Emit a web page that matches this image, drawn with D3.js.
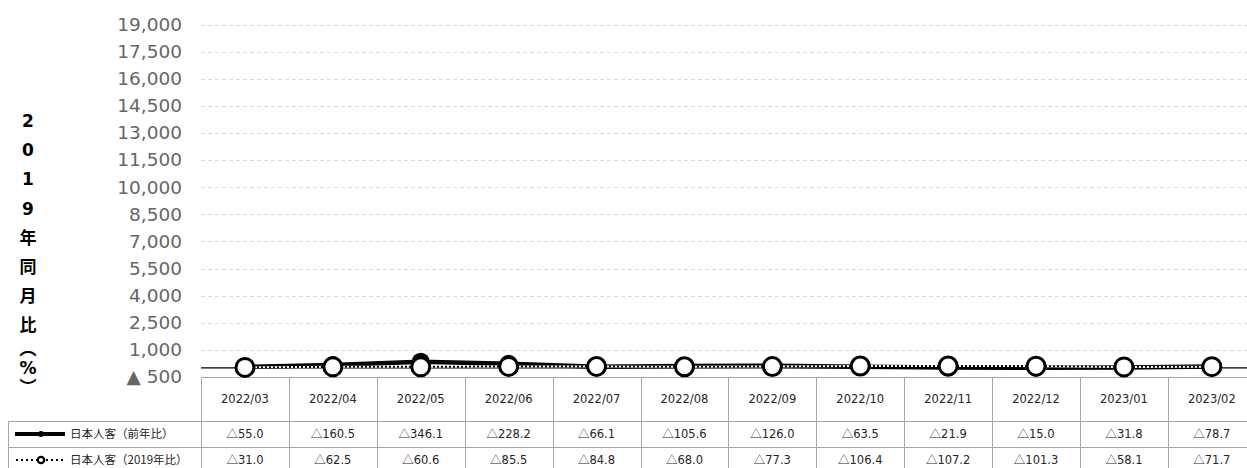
<!DOCTYPE html>
<html>
<head>
<meta charset="utf-8">
<script src="https://cdn.jsdelivr.net/npm/d3@7"></script>
<style>
  body { margin: 0; background: #fff; }
  svg { display: block; font-family: "DejaVu Sans", "Noto Sans CJK JP", sans-serif; }
</style>
</head>
<body>
<div class="canvas"></div>
<script>
// data
const months = ['2022/03', '2022/04', '2022/05', '2022/06', '2022/07', '2022/08',
  '2022/09', '2022/10', '2022/11', '2022/12', '2023/01', '2023/02'];
const yoyValues = [55.0, 160.5, 346.1, 228.2, 66.1, 105.6, 126.0, 63.5, 21.9, 15.0, 31.8, 78.7];
const vs2019Values = [31.0, 62.5, 60.6, 85.5, 84.8, 68.0, 77.3, 106.4, 107.2, 101.3, 58.1, 71.7];
const seriesNames = ['日本人客（前年比）', '日本人客（2019年比）'];
const yTicks = [-500, 1000, 2500, 4000, 5500, 7000, 8500, 10000, 11500, 13000, 14500, 16000, 17500, 19000];
const axisTitle = ['2', '0', '1', '9', '年', '同', '月', '比', '︵', '%', '︶'];

const width = 1247, height = 468;

const svg = d3.select('.canvas')
  .append('svg')
  .attr('width', width)
  .attr('height', height);

// plot area
const plotLeft = 201, plotTop = 24.5, plotBottom = 377;
const colW = 87.9;
const rowH = [44, 26, 26];

const x = d3.scaleBand()
  .domain(months)
  .range([plotLeft, plotLeft + colW * months.length]);

const y = d3.scaleLinear()
  .domain([-500, 19000])
  .range([plotBottom, plotTop]);

// gridlines
svg.append('g')
  .selectAll('line')
  .data(yTicks.filter(d => d > -500))
  .enter()
  .append('line')
    .attr('x1', plotLeft)
    .attr('x2', width)
    .attr('y1', d => Math.round(y(d)) + 0.5)
    .attr('y2', d => Math.round(y(d)) + 0.5)
    .attr('stroke', '#d9d9d9')
    .attr('stroke-dasharray', '4,3');

// y axis
const fmt = d3.format(',');
const yAxis = d3.axisLeft(y)
  .tickValues(yTicks)
  .tickSize(0)
  .tickPadding(0)
  .tickFormat(d => d < 0 ? '▲ ' + fmt(-d) : fmt(d));

const yAxisGroup = svg.append('g')
  .attr('transform', 'translate(182,0)')
  .call(yAxis);
yAxisGroup.select('.domain').remove();
yAxisGroup.selectAll('text')
  .attr('font-size', '18.5px')
  .attr('font-family', '"DejaVu Sans", sans-serif')
  .attr('fill', '#666');

// vertical axis title
const title = svg.append('text')
  .attr('font-size', '17px')
  .attr('font-weight', 'bold')
  .attr('fill', '#000')
  .attr('text-anchor', 'middle');
let ty = 127;
axisTitle.forEach((c, i) => {
  if (i > 0) ty += (c === '︵' ? 24 : (c === '%' || c === '︶') ? 19 : 29.2);
  title.append('tspan')
    .attr('x', 28)
    .attr('y', ty)
    .text(c);
});

// zero line
svg.append('line')
  .attr('x1', plotLeft)
  .attr('x2', width)
  .attr('y1', y(0))
  .attr('y2', y(0))
  .attr('stroke', '#000')
  .attr('stroke-width', 1.2);

// table
const tableTop = plotBottom;
const rowTops = [tableTop, tableTop + rowH[0], tableTop + rowH[0] + rowH[1]];
const gridColor = '#a6a6a6';
const textColor = '#262626';
const table = svg.append('g');

// horizontal borders
table.append('line')
  .attr('x1', plotLeft).attr('x2', width)
  .attr('y1', rowTops[0] + 0.5).attr('y2', rowTops[0] + 0.5)
  .attr('stroke', gridColor);
[rowTops[1], rowTops[2]].forEach(t => {
  table.append('line')
    .attr('x1', 8).attr('x2', width)
    .attr('y1', t + 0.5).attr('y2', t + 0.5)
    .attr('stroke', gridColor);
});
// vertical borders
table.append('line')
  .attr('x1', 8.5).attr('x2', 8.5)
  .attr('y1', rowTops[1]).attr('y2', height)
  .attr('stroke', gridColor);
table.selectAll('.vline')
  .data(months)
  .enter()
  .append('line')
    .attr('x1', d => Math.round(x(d)) + 0.5)
    .attr('x2', d => Math.round(x(d)) + 0.5)
    .attr('y1', rowTops[0])
    .attr('y2', height)
    .attr('stroke', gridColor);

// header labels
table.selectAll('.hdr')
  .data(months)
  .enter()
  .append('text')
    .attr('x', d => x(d) + x.bandwidth() / 2)
    .attr('y', rowTops[0] + rowH[0] / 2)
    .attr('dy', '0.35em')
    .attr('text-anchor', 'middle')
    .attr('font-size', '11.5px')
    .attr('fill', textColor)
    .text(d => d);

// value rows
[yoyValues, vs2019Values].forEach((vals, r) => {
  const cells = table.selectAll('.row' + r)
    .data(vals)
    .enter()
    .append('text')
      .attr('x', (d, i) => x(months[i]) + x.bandwidth() / 2)
      .attr('y', rowTops[r + 1] + rowH[r + 1] / 2)
      .attr('dy', '0.35em')
      .attr('text-anchor', 'middle')
      .attr('font-size', '11.5px')
      .attr('fill', textColor);
  cells.append('tspan')
    .attr('font-family', '"Noto Sans CJK JP", sans-serif')
    .text('△');
  cells.append('tspan')
    .text(d => d.toFixed(1));

  table.append('text')
    .attr('x', 70)
    .attr('y', rowTops[r + 1] + rowH[r + 1] / 2)
    .attr('dy', '0.35em')
    .attr('font-size', '11.5px')
    .attr('font-family', '"Noto Sans CJK JP", sans-serif')
    .attr('fill', textColor)
    .text(seriesNames[r]);
});

// legend keys
const ly1 = rowTops[1] + rowH[1] / 2;
table.append('line')
  .attr('x1', 15).attr('x2', 65)
  .attr('y1', ly1).attr('y2', ly1)
  .attr('stroke', '#000').attr('stroke-width', 4);
table.append('circle')
  .attr('cx', 41).attr('cy', ly1).attr('r', 3)
  .attr('fill', '#000');
const ly2 = rowTops[2] + rowH[2] / 2;
table.append('line')
  .attr('x1', 16).attr('x2', 66)
  .attr('y1', ly2).attr('y2', ly2)
  .attr('stroke', '#000').attr('stroke-width', 2)
  .attr('stroke-dasharray', '2,3');
table.append('circle')
  .attr('cx', 41).attr('cy', ly2).attr('r', 3.2)
  .attr('fill', '#fff')
  .attr('stroke', '#000').attr('stroke-width', 2.2);

// lines
const cx = (d, i) => x(months[i]) + x.bandwidth() / 2;
const line = d3.line()
  .x(cx)
  .y(d => y(d));

const plot = svg.append('g');

plot.append('path')
  .datum(yoyValues)
  .attr('d', line)
  .attr('fill', 'none')
  .attr('stroke', '#000')
  .attr('stroke-width', 4.5);

plot.selectAll('.yoyDot')
  .data(yoyValues)
  .enter()
  .append('circle')
    .attr('cx', cx)
    .attr('cy', d => y(d))
    .attr('r', 9)
    .attr('fill', '#000');

plot.append('path')
  .datum(vs2019Values)
  .attr('d', line)
  .attr('fill', 'none')
  .attr('stroke', '#fff')
  .attr('stroke-width', 2);
plot.append('path')
  .datum(vs2019Values)
  .attr('d', line)
  .attr('fill', 'none')
  .attr('stroke', '#000')
  .attr('stroke-width', 2)
  .attr('stroke-dasharray', '2,2');

plot.selectAll('.dot2019')
  .data(vs2019Values)
  .enter()
  .append('circle')
    .attr('cx', cx)
    .attr('cy', d => y(d))
    .attr('r', 9)
    .attr('fill', '#fff')
    .attr('stroke', '#000')
    .attr('stroke-width', 3);
</script>
</body>
</html>
